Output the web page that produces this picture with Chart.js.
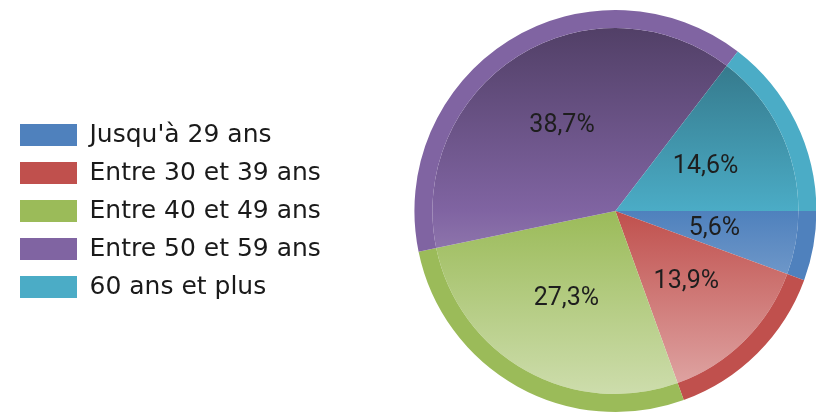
<!DOCTYPE html>
<html>
<head>
<meta charset="utf-8">
<script src="https://cdn.jsdelivr.net/npm/chart.js@4.4.1/dist/chart.umd.min.js"></script>
<style>
    html, body { margin: 0; padding: 0; overflow: hidden; background: #fff; }
    #wrap { width: 900px; height: 413px; }
</style>
</head>
<body>
<div id="wrap"><canvas id="pieChart"></canvas></div>
<script>
const ageGroups = ["Jusqu'à 29 ans", 'Entre 30 et 39 ans', 'Entre 40 et 49 ans', 'Entre 50 et 59 ans', '60 ans et plus'];
const shares = [5.6, 13.9, 27.3, 38.7, 14.6];
const sliceColors = ['#4f81bd', '#c0504d', '#9bbb59', '#8064a2', '#4bacc6'];

function mix(hex, target, t) {
    const n = parseInt(hex.slice(1), 16);
    const rgb = [(n >> 16) & 255, (n >> 8) & 255, n & 255];
    const out = rgb.map((c, i) => Math.round(c + (target[i] - c) * t));
    return `rgb(${out[0]}, ${out[1]}, ${out[2]})`;
}

// darker at the top, lighter at the bottom, like the original glossy pie
function innerFill(context) {
    const base = sliceColors[context.dataIndex];
    const area = context.chart.chartArea;
    if (!area) return base;
    const g = context.chart.ctx.createLinearGradient(0, area.top, 0, area.bottom);
    g.addColorStop(0, mix(base, [0, 0, 0], 0.4));
    g.addColorStop(0.5, base);
    g.addColorStop(1, mix(base, [255, 255, 255], 0.55));
    return g;
}

// percentage labels in the middle of each slice
const percentLabels = {
    id: 'percentLabels',
    afterDatasetsDraw(chart) {
        const arcs = chart.getDatasetMeta(1).data;
        const outer = chart.getDatasetMeta(0).data[0].outerRadius;
        const ctx = chart.ctx;
        ctx.save();
        ctx.font = '25px Roboto';
        ctx.fillStyle = '#1e1e1e';
        ctx.textAlign = 'center';
        ctx.textBaseline = 'middle';
        arcs.forEach((arc, i) => {
            const mid = (arc.startAngle + arc.endAngle) / 2;
            const r = outer * 0.5;
            const text = shares[i].toFixed(1).replace('.', ',') + '%';
            ctx.fillText(text, arc.x + Math.cos(mid) * r, arc.y + Math.sin(mid) * r);
        });
        ctx.restore();
    }
};

new Chart(document.getElementById('pieChart'), {
    type: 'pie',
    data: {
        labels: ageGroups,
        datasets: [
            {
                data: shares,
                backgroundColor: sliceColors,
                borderWidth: 0,
                weight: 18
            },
            {
                data: shares,
                backgroundColor: innerFill,
                borderWidth: 0,
                weight: 183
            }
        ]
    },
    options: {
        responsive: true,
        maintainAspectRatio: false,
        animation: false,
        events: [],
        rotation: 90,
        layout: { padding: { left: 7, top: 10, bottom: 1, right: 0 } },
        plugins: {
            tooltip: { enabled: false },
            legend: {
                position: 'left',
                labels: {
                    boxWidth: 57,
                    boxHeight: 22,
                    padding: 13,
                    color: '#1a1a1a',
                    font: { family: 'DejaVu Sans', size: 25 }
                }
            }
        }
    },
    plugins: [percentLabels]
});
</script>
</body>
</html>
